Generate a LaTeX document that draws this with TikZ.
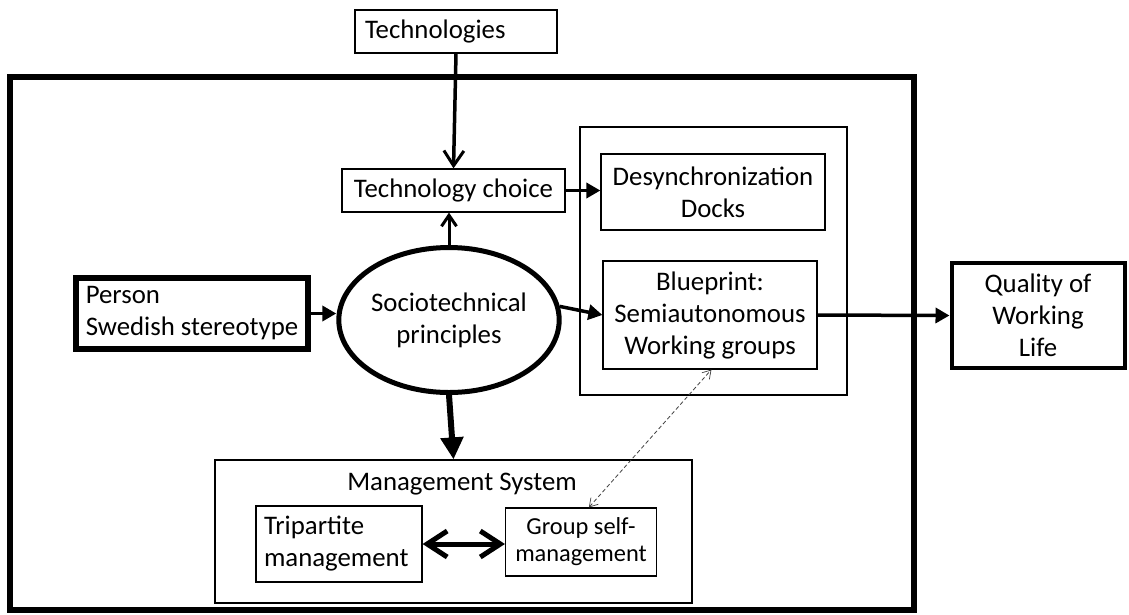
\documentclass[tikz,border=0pt]{standalone}
\usepackage{fontspec}
\setmainfont{Carlito}
\usetikzlibrary{arrows.meta,shapes.geometric,calc}
\begin{document}
\begin{tikzpicture}[x=1pt,y=-1pt,
  txt/.style={font=\fontsize{26.8}{32}\selectfont},
  box/.style={draw,line width=1.2pt,inner sep=0pt,txt,align=center},
  lbox/.style={draw,line width=1.2pt,inner sep=0pt,txt,align=left},
  fat/.style={-{Triangle[length=14pt,width=15pt]},line width=3.5pt},
  barb/.style={-{Straight Barb[length=15pt,width=20pt,line width=3pt]},line width=3.5pt},
  sbarb/.style={-{Straight Barb[length=11pt,width=15pt,line width=3pt]},line width=3pt},
  dbl/.style={{Straight Barb[length=20pt,width=26pt,line width=5pt]}-{Straight Barb[length=20pt,width=26pt,line width=5pt]},line width=5pt},
  dsh/.style={{Straight Barb[length=8pt,width=10pt,line width=0.7pt]}-{Straight Barb[length=8pt,width=10pt,line width=0.7pt]},dash pattern=on 4pt off 2.5pt,line width=0.8pt,gray!50!black}
]
\useasboundingbox (0,0) rectangle (1129,614);
% outer frame
\draw[line width=6pt] (10,77) rectangle (914,610);
% nodes
\node[box,minimum width=202pt,minimum height=43pt,align=left,text width=182pt] (tech) at (456,31.5) {Technologies};
\node[box,minimum width=223pt,minimum height=43pt] (tc) at (453.5,190.5) {Technology choice};
\node[draw,line width=1.2pt,minimum width=267pt,minimum height=268pt,inner sep=0pt] (cont) at (713.5,261) {};
\node[box,minimum width=224pt,minimum height=76pt] (desync) at (713,192) {Desynchronization\\Docks};
\node[box,minimum width=214pt,minimum height=108pt] (blue) at (710,315) {Blueprint:\\Semiautonomous\\Working groups};
\node[box,line width=4pt,minimum width=173pt,minimum height=105pt] (qual) at (1038,315.5) {Quality of\\Working\\Life};
\node[lbox,line width=6pt,minimum width=232pt,minimum height=71pt] (person) at (192,313.5) {Person\\Swedish stereotype};
\node[draw,ellipse,line width=5pt,minimum width=186pt,minimum height=145pt,inner sep=0pt,txt,align=center] (soc) at (449,320) {Sociotechnical\\principles};
\node[draw,line width=1.2pt,minimum width=477pt,minimum height=143pt,inner sep=0pt] (ms) at (453.5,531.5) {};
\node[txt] (mslabel) at (462,484) {Management System};
\node[lbox,minimum width=166pt,minimum height=76pt,text width=150pt] (tri) at (339,544) {Tripartite\\management};
\node[box,minimum width=151pt,minimum height=68pt,font=\fontsize{24.4}{27}\selectfont] (grp) at (581,542) {Group self-\\management};
% connectors
\draw[barb] (tech.south) -- (tc.north);
\draw[sbarb] (soc.north) -- (soc.north |- tc.south);
\draw[fat] (tc.east) -- (desync.west |- tc.east);
\draw[fat] (person.east) -- (person.east -| soc.west);
\draw[fat] (soc.7) -- (blue.west);
\draw[fat] (blue.east) -- (qual.west);
\draw[-{Triangle[length=22pt,width=22pt]},line width=6pt] (soc.south) -- (ms.north);
\draw[dbl] (tri.east) -- (tri.east -| grp.west);
\draw[dsh] ([xshift=84pt]grp.north west) -- ([xshift=109pt]blue.south west);
\end{tikzpicture}
\end{document}
